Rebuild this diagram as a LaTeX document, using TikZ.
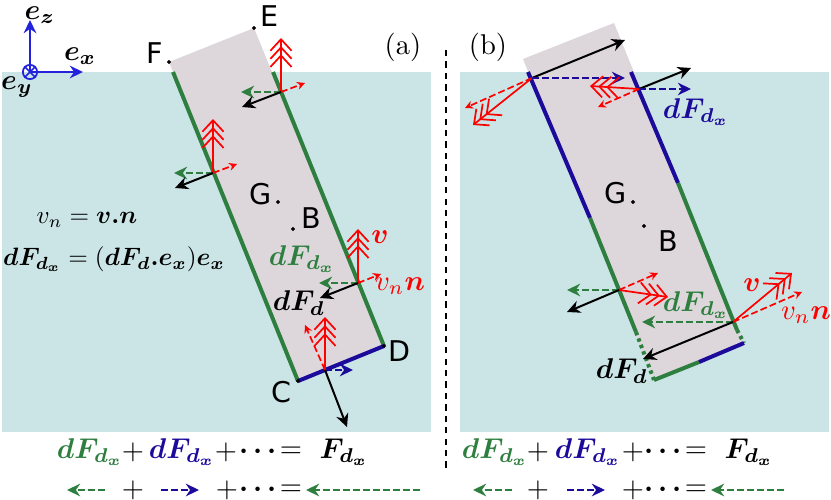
\documentclass[tikz,border=0pt]{standalone}
\usepackage{amsmath,bm}
\usepackage{fontspec}
\setsansfont{DejaVu Sans}
\usetikzlibrary{arrows.meta}
\definecolor{waterc}{HTML}{CBE5E6}
\definecolor{platec}{HTML}{DDD7DC}
\definecolor{dgreen}{HTML}{2E7F3F}
\definecolor{dblue}{HTML}{1C0A9A}
\definecolor{axisc}{HTML}{2222DD}
\newcommand{\dotsum}{${\bm{\cdot}}\,{\bm{\cdot}}\,{\bm{\cdot}}$}
\tikzset{
  force/.style={black, line width=0.7pt, -{Stealth[length=4.6pt,width=4.4pt]}},
  fgreen/.style={dgreen, line width=0.7pt, dash pattern=on 2.4pt off 1.1pt, -{Stealth[length=4.6pt,width=4.4pt]}},
  fblue/.style={dblue, line width=0.7pt, dash pattern=on 2.4pt off 1.1pt, -{Stealth[length=4.6pt,width=4.4pt]}},
  vel/.style={red, line width=0.6pt, -{Straight Barb[length=4pt,width=7.4pt,sep=-1.9pt]Straight Barb[length=4pt,width=7.4pt,sep=-1.9pt]Straight Barb[length=4pt,width=7.4pt]}},
  veln/.style={red, line width=0.6pt, dash pattern=on 2.4pt off 1.1pt, -{Stealth[length=2.8pt,width=2.8pt]}},
  edgeg/.style={dgreen, line width=1.4pt},
  edgeb/.style={dblue, line width=1.4pt},
  edged/.style={dgreen, line width=1.4pt, dash pattern=on 1.2pt off 1.2pt},
  lab/.style={inner sep=0pt, font=\sffamily},
  eq/.style={inner sep=0pt}
}
\begin{document}
\begin{tikzpicture}[x=0.35pt, y=-0.35pt]
  \useasboundingbox (0, 0) rectangle (831, 500);

  % water
  \fill[waterc] (2, 72) rectangle (431, 432);
  \fill[waterc] (460, 72) rectangle (829, 432);

  % plate (a)
  \coordinate (F) at (169, 62);
  \coordinate (E) at (254, 28);
  \coordinate (D) at (384, 346);
  \coordinate (C) at (298, 381);
  \fill[platec] (F) -- (E) -- (D) -- (C) -- cycle;
  \coordinate (Fw) at (173, 72);
  \coordinate (Ew) at (273, 72);
  \draw[edgeg] (Fw) -- (C);
  \draw[edgeg] (Ew) -- (D);
  \draw[edgeb] (C) -- (D);

  % plate (b)
  \coordinate (Fb) at (523, 59);
  \coordinate (Eb) at (614, 23);
  \coordinate (Db) at (744, 343);
  \coordinate (Cb) at (654, 380);
  \fill[platec] (Fb) -- (Eb) -- (Db) -- (Cb) -- cycle;
  \coordinate (Lw) at (528, 72);
  \coordinate (Lm) at (590, 218);
  \coordinate (Ln) at (636, 332);
  \coordinate (Rw) at (631, 72);
  \coordinate (Rm) at (678, 183);
  \coordinate (Rn) at (737, 330);
  \coordinate (Bm) at (699, 362);
  \draw[edgeb] (Lw) -- (Lm);
  \draw[edgeg] (Lm) -- (Ln);
  \draw[edged] (Ln) -- (Cb);
  \draw[edgeb] (Rw) -- (Rm);
  \draw[edgeg] (Rm) -- (Rn);
  \draw[edged] (Rn) -- (Db);
  \draw[edgeg] (Cb) -- (Bm);
  \draw[edgeb] (Bm) -- (Db);

  % axes
  \node[draw=axisc, circle, line width=0.6pt, inner sep=0pt, minimum size=5pt] (eo) at (30, 72) {};
  \draw[axisc, line width=0.5pt] (eo.north west) -- (eo.south east);
  \draw[axisc, line width=0.5pt] (eo.north east) -- (eo.south west);
  \coordinate (ezt) at (30, 20);
  \coordinate (ext) at (83, 72);
  \draw[axisc, line width=0.8pt, -{Stealth[length=4.6pt,width=4.4pt]}] (eo.center) -- (ezt);
  \draw[axisc, line width=0.8pt, -{Stealth[length=4.6pt,width=4.4pt]}] (eo.center) -- (ext);
  \node[eq] (ez) at (40, 15) {$\bm{e_z}$};
  \node[eq] (ex) at (80, 56) {$\bm{e_x}$};
  \node[eq] (ey) at (17, 87) {$\bm{e_y}$};

  % forces (a), right edge top
  \coordinate (Pa) at (281, 92);
  \coordinate (Pav) at (281, 38);
  \coordinate (Pag) at (241, 92);
  \coordinate (Pak) at (242, 107);
  \coordinate (Pan) at (305, 83);
  \draw[vel] (Pa) -- (Pav);
  \draw[fgreen] (Pa) -- (Pag);
  \draw[force] (Pa) -- (Pak);
  \draw[veln] (Pa) -- (Pan);

  % left edge
  \coordinate (Pb) at (213, 173);
  \coordinate (Pbv) at (213, 119);
  \coordinate (Pbg) at (174, 173);
  \coordinate (Pbk) at (175, 188);
  \coordinate (Pbn) at (237, 164);
  \draw[vel] (Pb) -- (Pbv);
  \draw[fgreen] (Pb) -- (Pbg);
  \draw[force] (Pb) -- (Pbk);
  \draw[veln] (Pb) -- (Pbn);

  % right edge bottom
  \coordinate (Pc) at (358, 283);
  \coordinate (Pcv) at (358, 229);
  \coordinate (Pcg) at (319, 283);
  \coordinate (Pck) at (320, 298);
  \coordinate (Pcn) at (381, 274);
  \draw[vel] (Pc) -- (Pcv);
  \draw[fgreen] (Pc) -- (Pcg);
  \draw[force] (Pc) -- (Pck);
  \draw[veln] (Pc) -- (Pcn);

  % blue edge
  \coordinate (Pd) at (325, 370);
  \coordinate (Pdv) at (325, 317);
  \coordinate (Pdb) at (353, 370);
  \coordinate (Pdk) at (347, 427);
  \coordinate (Pdn) at (305, 325);
  \draw[vel] (Pd) -- (Pdv);
  \draw[fblue] (Pd) -- (Pdb);
  \draw[force] (Pd) -- (Pdk);
  \draw[veln] (Pd) -- (Pdn);

  % forces (b)
  \coordinate (Qa) at (532, 78);
  \coordinate (Qak) at (625, 40);
  \coordinate (Qab) at (625, 78);
  \coordinate (Qan) at (465, 108);
  \coordinate (Qav) at (473, 125);
  \draw[vel] (Qa) -- (Qav);
  \draw[veln] (Qa) -- (Qan);
  \draw[force] (Qa) -- (Qak);
  \draw[fblue] (Qa) -- (Qab);

  \coordinate (Qb) at (639, 89);
  \coordinate (Qbk) at (691, 68);
  \coordinate (Qbb) at (691, 89);
  \coordinate (Qbv) at (590, 86);
  \coordinate (Qbn) at (598, 107);
  \draw[vel] (Qb) -- (Qbv);
  \draw[veln] (Qb) -- (Qbn);
  \draw[force] (Qb) -- (Qbk);
  \draw[fblue] (Qb) -- (Qbb);

  \coordinate (Qc) at (619, 290);
  \coordinate (Qcg) at (567, 290);
  \coordinate (Qck) at (567, 312);
  \coordinate (Qcn) at (658, 273);
  \coordinate (Qcv) at (668, 297);
  \draw[vel] (Qc) -- (Qcv);
  \draw[veln] (Qc) -- (Qcn);
  \draw[fgreen] (Qc) -- (Qcg);
  \draw[force] (Qc) -- (Qck);

  \coordinate (Qd) at (733, 322);
  \coordinate (Qdg) at (642, 322);
  \coordinate (Qdk) at (643, 359);
  \coordinate (Qdv) at (792, 273);
  \coordinate (Qdn) at (802, 292);
  \draw[vel] (Qd) -- (Qdv);
  \draw[veln] (Qd) -- (Qdn);
  \draw[fgreen] (Qd) -- (Qdg);
  \draw[force] (Qd) -- (Qdk);

  % points
  \coordinate (Ga) at (278, 202);
  \coordinate (Ba) at (293, 229);
  \coordinate (Gb) at (633, 202);
  \coordinate (Bb) at (644, 226);
  \filldraw[black] (F) circle (0.5pt);
  \filldraw[black] (E) circle (0.5pt);
  \filldraw[black] (C) circle (0.5pt);
  \filldraw[black] (D) circle (0.5pt);
  \filldraw[black] (Ga) circle (0.5pt);
  \filldraw[black] (Ba) circle (0.5pt);
  \filldraw[black] (Gb) circle (0.5pt);
  \filldraw[black] (Bb) circle (0.5pt);

  % point labels
  \node[lab] (lE) at (270, 16) {E};
  \node[lab] (lF) at (155, 53) {F};
  \node[lab] (lG) at (261, 194) {G};
  \node[lab] (lB) at (311, 218) {B};
  \node[lab] (lC) at (281, 392) {C};
  \node[lab] (lD) at (399, 351) {D};
  \node[lab] (lGb) at (616, 193) {G};
  \node[lab] (lBb) at (668, 241) {B};
  \node[eq] (pa) at (403, 47) {(a)};
  \node[eq] (pb) at (488, 47) {(b)};

  % separation
  \coordinate (sept) at (446, 50);
  \coordinate (sepb) at (446, 470);
  \draw[black, line width=0.4pt, dash pattern=on 2.2pt off 1.8pt] (sept) -- (sepb);

  % definitions
  \node[eq, scale=0.88] (defv) at (87, 220) {$v_n=\bm{v.n}$};
  \node[eq, scale=0.88] (deff) at (114, 259) {$\bm{dF_{d_x}}=(\bm{dF_d.e_x})\bm{e_x}$};

  % labels (a)
  \node[eq, text=dgreen] (gFa) at (302, 259) {$\bm{dF_{d_x}}$};
  \node[eq, text=red] (va) at (380, 237) {$\bm{v}$};
  \node[eq, text=red] (vna) at (400, 286) {$v_n\bm{n}$};
  \node[eq] (ka) at (299, 303) {$\bm{dF_d}$};

  % labels (b)
  \node[eq, text=dblue] (bFb) at (696, 112) {$\bm{dF_{d_x}}$};
  \node[eq, text=dgreen] (gFb) at (696, 305) {$\bm{dF_{d_x}}$};
  \node[eq, text=red] (vb) at (752, 285) {$\bm{v}$};
  \node[eq, text=red] (vnb) at (806, 315) {$v_n\bm{n}$};
  \node[eq] (kb) at (622, 371) {$\bm{dF_d}$};

  % sum (a)
  \node[eq, text=dgreen] (s1) at (90, 452) {$\bm{dF_{d_x}}$};
  \node[eq] (s2) at (133, 452) {$+$};
  \node[eq, text=dblue] (s3) at (182, 452) {$\bm{dF_{d_x}}$};
  \node[eq] (s4) at (226, 452) {$+$};
  \node[eq] (s5) at (258, 452) {\dotsum};
  \node[eq] (s6) at (291, 452) {$=$};
  \node[eq] (s7) at (344, 452) {$\bm{F_{d_x}}$};

  \coordinate (a1s) at (105, 490);
  \coordinate (a1e) at (67, 490);
  \coordinate (a2s) at (161, 490);
  \coordinate (a2e) at (199, 490);
  \coordinate (a3s) at (420, 490);
  \coordinate (a3e) at (306, 490);
  \draw[fgreen] (a1s) -- (a1e);
  \node[eq] (t2) at (133, 490) {$+$};
  \draw[fblue] (a2s) -- (a2e);
  \node[eq] (t4) at (227, 490) {$+$};
  \node[eq] (t5) at (258, 490) {\dotsum};
  \node[eq] (t6) at (291, 490) {$=$};
  \draw[fgreen] (a3s) -- (a3e);

  % sum (b)
  \node[eq, text=dgreen] (u1) at (495, 452) {$\bm{dF_{d_x}}$};
  \node[eq] (u2) at (538, 452) {$+$};
  \node[eq, text=dblue] (u3) at (588, 452) {$\bm{dF_{d_x}}$};
  \node[eq] (u4) at (633, 452) {$+$};
  \node[eq] (u5) at (663, 452) {\dotsum};
  \node[eq] (u6) at (696, 452) {$=$};
  \node[eq] (u7) at (749, 452) {$\bm{F_{d_x}}$};

  \coordinate (b1s) at (512, 490);
  \coordinate (b1e) at (473, 490);
  \coordinate (b2s) at (567, 490);
  \coordinate (b2e) at (605, 490);
  \coordinate (b3s) at (784, 490);
  \coordinate (b3e) at (711, 490);
  \draw[fgreen] (b1s) -- (b1e);
  \node[eq] (w2) at (538, 490) {$+$};
  \draw[fblue] (b2s) -- (b2e);
  \node[eq] (w4) at (633, 490) {$+$};
  \node[eq] (w5) at (663, 490) {\dotsum};
  \node[eq] (w6) at (696, 490) {$=$};
  \draw[fgreen] (b3s) -- (b3e);
\end{tikzpicture}
\end{document}
